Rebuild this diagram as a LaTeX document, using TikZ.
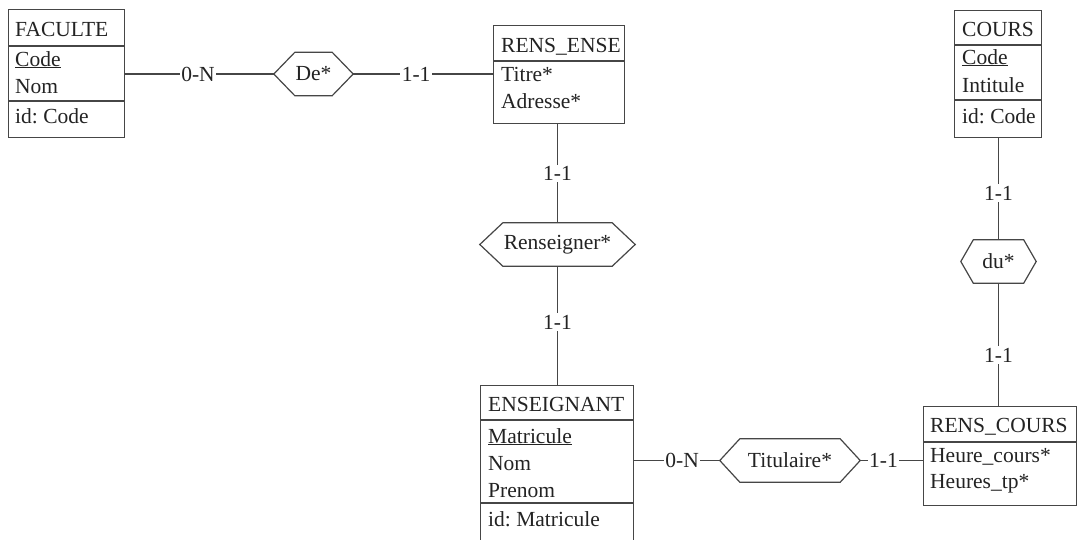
\documentclass[tikz,border=0pt]{standalone}
\usepackage{fontspec}
\setmainfont{Liberation Serif}
\frenchspacing
\definecolor{linegray}{RGB}{70,70,70}
\definecolor{textgray}{RGB}{35,35,35}
\newcommand\erfont{\fontsize{21.5}{25}\selectfont}
% hexagonal outline around a relationship node: #1 node name, #2 depth of the side points
\newcommand\hexoutline[2]{%
  \draw[ink] (#1.west) -- ([xshift=#2]#1.north west) -- ([xshift=-#2]#1.north east)
    -- (#1.east) -- ([xshift=-#2]#1.south east) -- ([xshift=#2]#1.south west) -- cycle;}
\begin{document}
\begin{tikzpicture}[x=1pt,y=-1pt,
  ink/.style={draw=linegray, line width=1.2pt},
  entity/.style={ink, rectangle, inner sep=0pt, anchor=north west},
  txt/.style={anchor=base west, inner sep=0pt, text=textgray, font=\erfont},
  card/.style={fill=white, inner sep=1.5pt, text=textgray, font=\erfont},
  relcore/.style={rectangle, inner sep=0pt, minimum height=43pt, text=textgray, font=\erfont},
]
\clip (0,0) rectangle (1077,539);
\fill[white] (0,0) rectangle (1077,539);

% ---- entity FACULTE
\node[entity, minimum width=116pt, minimum height=128pt] (fac) at (8,9) {};
\draw[ink] (8,46) -- (124,46);
\draw[ink] (8,101) -- (124,101);
\node[txt] (facT) at (15,36) {FACULTE};
\node[txt] (facA1) at (15,66) {\underline{Code}};
\node[txt] (facA2) at (15,93) {Nom};
\node[txt] (facI) at (15,123) {id: Code};

% ---- entity RENS_ENSE
\node[entity, minimum width=131pt, minimum height=98pt] (re) at (493,25) {};
\draw[ink] (493,61) -- (624,61);
\node[txt] (reT) at (501,52) {RENS\_ENSE};
\node[txt] (reA1) at (501,81) {Titre*};
\node[txt] (reA2) at (501,108) {Adresse*};

% ---- entity COURS
\node[entity, minimum width=87pt, minimum height=127pt] (co) at (954,10) {};
\draw[ink] (954,45) -- (1041,45);
\draw[ink] (954,100) -- (1041,100);
\node[txt] (coT) at (962,36) {COURS};
\node[txt] (coA1) at (962,64) {\underline{Code}};
\node[txt] (coA2) at (962,92) {Intitule};
\node[txt] (coI) at (962,123) {id: Code};

% ---- entity ENSEIGNANT
\node[entity, minimum width=153pt, minimum height=165pt] (en) at (480,385) {};
\draw[ink] (480,420) -- (633,420);
\draw[ink] (480,503) -- (633,503);
\node[txt] (enT) at (488,411) {ENSEIGNANT};
\node[txt] (enA1) at (488,443) {\underline{Matricule}};
\node[txt] (enA2) at (488,470) {Nom};
\node[txt] (enA3) at (488,497) {Prenom};
\node[txt] (enI) at (488,526) {id: Matricule};

% ---- entity RENS_COURS
\node[entity, minimum width=153pt, minimum height=99pt] (rc) at (923,406) {};
\draw[ink] (923,442) -- (1076,442);
\node[txt] (rcT) at (930,432) {RENS\_COURS};
\node[txt] (rcA1) at (930,462) {Heure\_cours*};
\node[txt] (rcA2) at (930,488) {Heures\_tp*};

% ---- relationships
\node[relcore, minimum width=79pt] (de) at (313.5,74) {De*};
\hexoutline{de}{21pt}
\node[relcore, minimum width=155pt] (rs) at (557.5,244.5) {Renseigner*};
\hexoutline{rs}{23pt}
\node[relcore, minimum width=75pt] (du) at (998.5,261.5) {du*};
\hexoutline{du}{12.5pt}
\node[relcore, minimum width=140pt] (ti) at (790,460.5) {Titulaire*};
\hexoutline{ti}{20pt}

% ---- role lines with cardinalities
\draw[ink] (de.west -| fac.east) -- node[card, pos=0.49] {0-N} (de.west);
\draw[ink] (de.east) -- node[card, pos=0.45] {1-1} (de.east -| re.west);
\draw[ink] (rs.north |- re.south) -- node[card, pos=0.5] {1-1} (rs.north);
\draw[ink] (rs.south) -- node[card, pos=0.47] {1-1} (rs.south |- en.north);
\draw[ink] (ti.west -| en.east) -- node[card, pos=0.56] {0-N} (ti.west);
\draw[ink] (ti.east) -- node[card, pos=0.37] {1-1} (ti.east -| rc.west);
\draw[ink] (du.north |- co.south) -- node[card, pos=0.54] {1-1} (du.north);
\draw[ink] (du.south) -- node[card, pos=0.585] {1-1} (du.south |- rc.north);
\end{tikzpicture}
\end{document}
